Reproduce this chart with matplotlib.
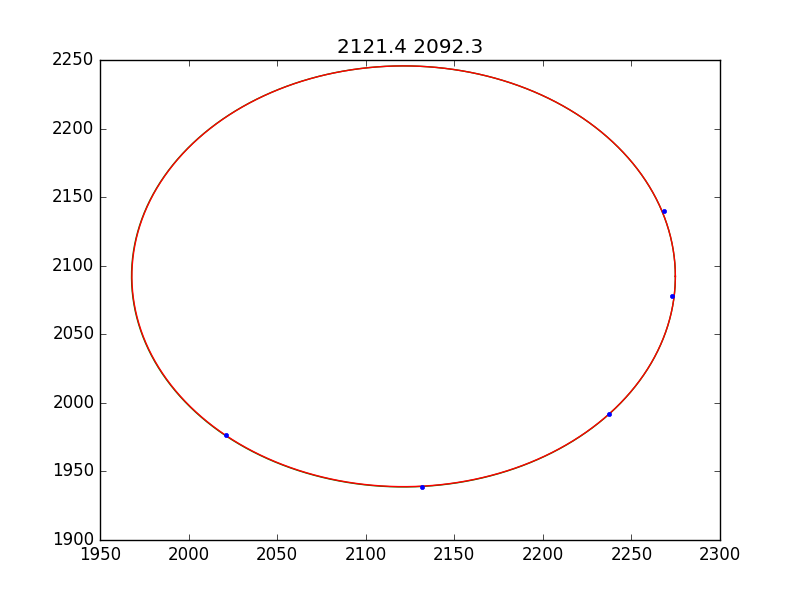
import numpy as np
import matplotlib
matplotlib.use("Agg")
import matplotlib.pyplot as plt

plt.style.use("classic")

# measured points
xs = [2021.1, 2131.8, 2237.3, 2272.9, 2268.4]
ys = [1976.6, 1938.6, 1991.9, 2077.9, 2139.9]

# initial estimate circle (green) and fitted circle (red)
center_est = (2121.3, 2092.2)
radius_est = 153.5
center_fit = (2121.4, 2092.3)
radius_fit = 153.4

title = "2121.4 2092.3"

fig = plt.figure(figsize=(8, 6), dpi=100)
ax = fig.add_subplot(111)

theta = np.linspace(0, 2 * np.pi, 400)
ax.plot(center_est[0] + radius_est * np.cos(theta),
        center_est[1] + radius_est * np.sin(theta), "g-")
ax.plot(center_fit[0] + radius_fit * np.cos(theta),
        center_fit[1] + radius_fit * np.sin(theta), "r-")
ax.plot(xs, ys, "b.")

ax.set_xlim(1950, 2300)
ax.set_ylim(1900, 2250)
ax.set_xticks(np.arange(1950, 2301, 50))
ax.set_yticks(np.arange(1900, 2251, 50))
ax.set_title(title)

fig.savefig("out.png", dpi=100)
